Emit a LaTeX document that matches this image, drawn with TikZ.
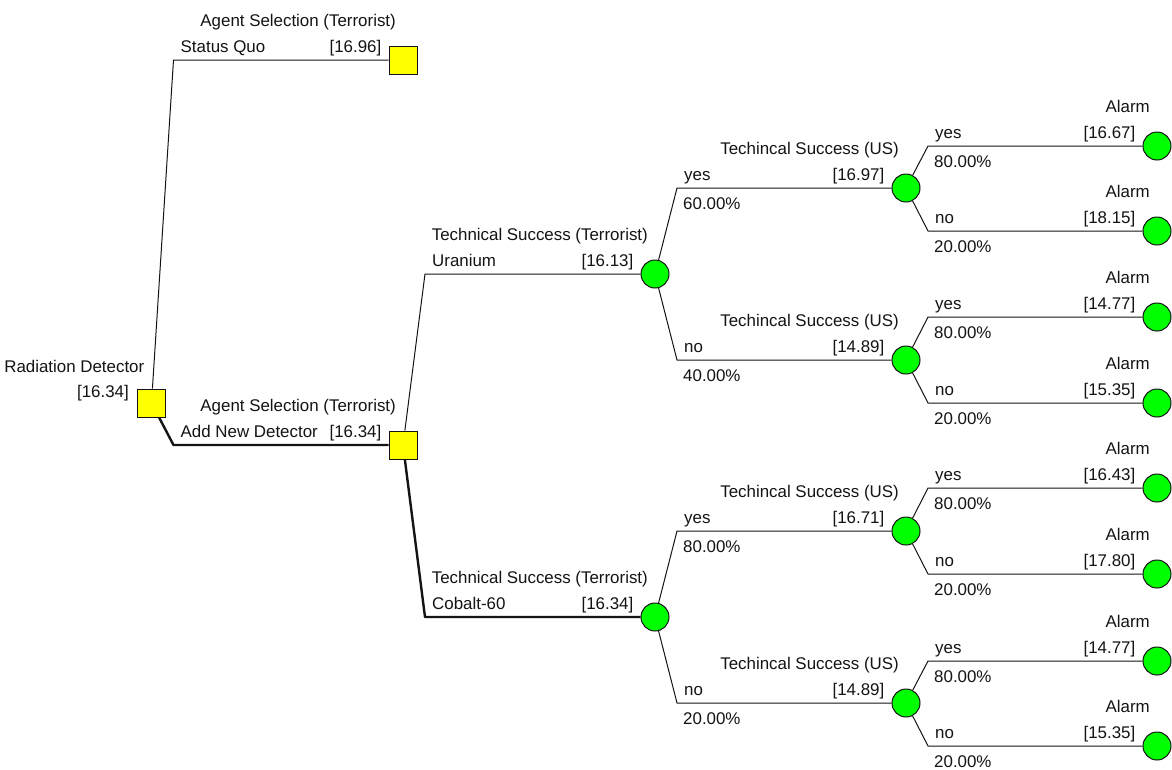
\documentclass[tikz,border=0pt]{standalone}
\usepackage{fontspec}
\setmainfont{Liberation Sans}
\usetikzlibrary{calc}
\definecolor{decfill}{RGB}{255,255,0}
\definecolor{chfill}{RGB}{0,255,0}
\definecolor{ink}{RGB}{20,20,20}

% #1 line style, #2 parent node, #3 child node, #4 branch label,
% #5 probability (may be empty), #6 child title, #7 child value
\newcommand\treebranch[7]{%
  \path let \p1=(#2.center), \p2=(#3.center) in (\x1+22pt,\y2) coordinate (#3-e);
  \draw[#1] (#2) -- (#3-e) -- (#3);
  \node[lbl,anchor=base west] (#3-lb) at ([shift={(7,-8)}]#3-e) {#4};
  \if\relax\detokenize{#5}\relax\else
    \node[lbl,anchor=base west] (#3-pr) at ([shift={(6,21)}]#3-e) {#5};
  \fi
  \node[lbl,anchor=base east] (#3-tt) at ([shift={(-7,-34)}]#3.center) {#6};
  \node[lbl,anchor=base east] (#3-vl) at ([shift={(-7,-8)}]#3.west) {#7};
}

\begin{document}
\begin{tikzpicture}[x=1pt,y=-1pt,
  decision/.style={draw=ink,line width=1pt,fill=decfill,rectangle,minimum size=28pt,inner sep=0pt},
  chance/.style={draw=ink,line width=1pt,fill=chfill,circle,minimum size=28pt,inner sep=0pt},
  edge/.style={draw=ink,line width=1pt,line join=round},
  bestedge/.style={draw=ink,line width=2.4pt,line join=round},
  lbl/.style={inner sep=0pt,font=\fontsize{16.9}{20}\selectfont,text=ink},
]
\fill[white] (0,0) rectangle (1172,769);
\useasboundingbox (0,0) rectangle (1172,769);

% decision nodes
\node[decision] (R)  at (151.5,403) {};
\node[decision] (SQ) at (403,60) {};
\node[decision] (AN) at (403,445) {};
% terrorist technical success
\node[chance] (U) at (655,274) {};
\node[chance] (C) at (655,617) {};
% US technical success
\node[chance] (U1) at (906,188) {};
\node[chance] (U2) at (906,360) {};
\node[chance] (C1) at (906,531) {};
\node[chance] (C2) at (906,703) {};
% alarm outcomes
\node[chance] (U1a) at (1157,146) {};
\node[chance] (U1b) at (1157,231) {};
\node[chance] (U2a) at (1157,317) {};
\node[chance] (U2b) at (1157,403) {};
\node[chance] (C1a) at (1157,488) {};
\node[chance] (C1b) at (1157,574) {};
\node[chance] (C2a) at (1157,661) {};
\node[chance] (C2b) at (1157,746) {};

\node[lbl,anchor=base east] (R-tt) at (144.5,372) {Radiation Detector};
\node[lbl,anchor=base east] (R-vl) at (129,397) {[16.34]};

\treebranch{edge}{R}{SQ}{Status Quo}{}{Agent Selection (Terrorist)}{[16.96]}
\treebranch{bestedge}{R}{AN}{Add New Detector}{}{Agent Selection (Terrorist)}{[16.34]}

\treebranch{edge}{AN}{U}{Uranium}{}{Technical Success (Terrorist)}{[16.13]}
\treebranch{bestedge}{AN}{C}{Cobalt-60}{}{Technical Success (Terrorist)}{[16.34]}

\treebranch{edge}{U}{U1}{yes}{60.00\%}{Techincal Success (US)}{[16.97]}
\treebranch{edge}{U}{U2}{no}{40.00\%}{Techincal Success (US)}{[14.89]}
\treebranch{edge}{C}{C1}{yes}{80.00\%}{Techincal Success (US)}{[16.71]}
\treebranch{edge}{C}{C2}{no}{20.00\%}{Techincal Success (US)}{[14.89]}

\treebranch{edge}{U1}{U1a}{yes}{80.00\%}{Alarm}{[16.67]}
\treebranch{edge}{U1}{U1b}{no}{20.00\%}{Alarm}{[18.15]}
\treebranch{edge}{U2}{U2a}{yes}{80.00\%}{Alarm}{[14.77]}
\treebranch{edge}{U2}{U2b}{no}{20.00\%}{Alarm}{[15.35]}
\treebranch{edge}{C1}{C1a}{yes}{80.00\%}{Alarm}{[16.43]}
\treebranch{edge}{C1}{C1b}{no}{20.00\%}{Alarm}{[17.80]}
\treebranch{edge}{C2}{C2a}{yes}{80.00\%}{Alarm}{[14.77]}
\treebranch{edge}{C2}{C2b}{no}{20.00\%}{Alarm}{[15.35]}
\end{tikzpicture}
\end{document}
